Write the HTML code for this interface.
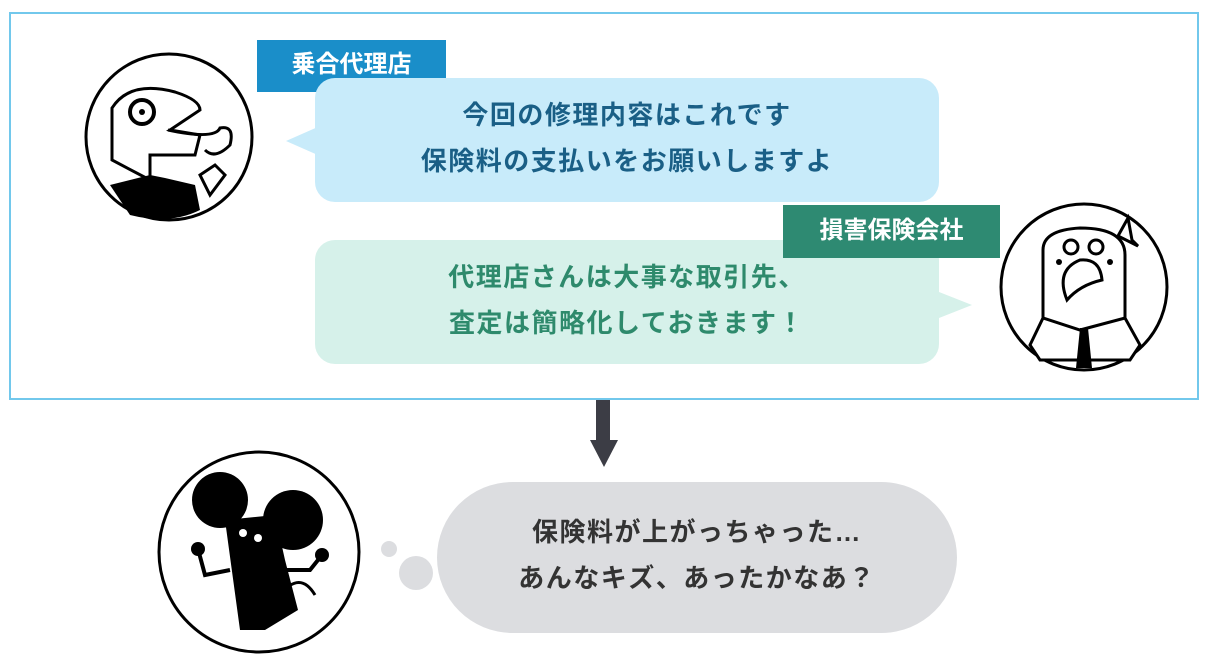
<!DOCTYPE html>
<html><head><meta charset="utf-8"><style>
body{margin:0;width:1208px;height:655px;background:#fff;position:relative;overflow:hidden;font-family:"Liberation Sans","Noto Sans CJK JP",sans-serif;}
.a{position:absolute;}
.t{font-weight:bold;font-size:26px;letter-spacing:1.5px;text-align:center;line-height:46px;}
</style></head><body>
<div class="a" style="left:9px;top:12px;width:1186px;height:384px;border:2px solid #72c8ec;"></div>
<svg class="a" style="left:0;top:0" width="1208" height="655">
<polygon points="286,141 320,126 320,156" fill="#c8ebfa"/>
<polygon points="972,305 934,290 934,320" fill="#d6f1ea"/>
<rect x="596" y="400" width="14" height="42" fill="#3c3d45"/>
<polygon points="590,440 618,440 604,467" fill="#3c3d45"/>
<circle cx="389" cy="549" r="8" fill="#dcdde0"/>
<circle cx="416" cy="573" r="17" fill="#dcdde0"/>
<!-- chameleon -->
<circle cx="169" cy="137" r="83" fill="#fff" stroke="#000" stroke-width="3"/>
<path d="M112,160 L112,108 Q130,80 175,92 Q200,100 200,110 L170,130 L200,135 L195,155 L150,155 L150,180 Z" fill="#fff" stroke="#000" stroke-width="3"/>
<circle cx="142" cy="112" r="12" fill="#fff" stroke="#000" stroke-width="4"/><circle cx="142" cy="112" r="3"/>
<path d="M168,130 Q215,140 220,128 Q235,125 230,145 Q215,160 205,150" fill="none" stroke="#000" stroke-width="3"/>
<path d="M110,185 L150,175 L165,178 L195,185 L200,210 Q170,225 130,215 Z" fill="#000"/>
<path d="M200,175 L215,165 L225,175 L210,195 Z" fill="#fff" stroke="#000" stroke-width="3"/>
<!-- bird -->
<circle cx="1084" cy="287" r="83" fill="#fff" stroke="#000" stroke-width="3"/>
<path d="M1043,320 L1043,250 Q1043,230 1080,228 Q1125,228 1125,255 L1125,320" fill="#fff" stroke="#000" stroke-width="3"/>
<path d="M1118,236 L1128,218 L1132,240 L1138,246 Z" fill="#fff" stroke="#000" stroke-width="3"/>
<circle cx="1071" cy="247" r="7" fill="#fff" stroke="#000" stroke-width="3"/><circle cx="1096" cy="247" r="7" fill="#fff" stroke="#000" stroke-width="3"/>
<circle cx="1059" cy="262" r="3"/><circle cx="1110" cy="262" r="3"/>
<path d="M1067,300 Q1055,270 1080,260 Q1100,258 1102,280 Q1080,285 1067,300 Z" fill="#fff" stroke="#000" stroke-width="3"/>
<path d="M1030,345 L1043,318 L1080,330 L1125,318 L1140,345 L1130,360 L1040,360 Z" fill="#fff" stroke="#000" stroke-width="3"/>
<polygon points="1080,328 1088,328 1092,368 1076,368" fill="#000"/>
<!-- mouse -->
<circle cx="259" cy="552" r="100" fill="#fff" stroke="#000" stroke-width="3"/>
<circle cx="220" cy="500" r="28" fill="#000"/><circle cx="293" cy="520" r="30" fill="#000"/>
<path d="M225,520 L275,515 L285,560 L298,610 L265,630 L240,630 Z" fill="#000"/>
<circle cx="198" cy="549" r="7" fill="#000"/><circle cx="322" cy="555" r="7" fill="#000"/>
<path d="M198,549 L205,575 L230,570 M322,555 L310,570 L285,570" stroke="#000" stroke-width="4" fill="none"/>
<path d="M280,595 Q300,570 315,595" stroke="#000" stroke-width="3" fill="none"/>
<circle cx="243" cy="533" r="4" fill="#fff"/><circle cx="258" cy="538" r="4" fill="#fff"/>
</svg>
<div class="a" style="left:257px;top:40px;width:189px;height:52px;background:#1a8ec9;color:#fff;font-weight:bold;font-size:24px;line-height:50px;text-align:center;">乗合代理店</div>
<div class="a t" style="left:315px;top:78px;width:624px;height:124px;border-radius:20px;background:#c8ebfa;color:#1a5f86;padding-top:14px;box-sizing:border-box;">今回の修理内容はこれです<br>保険料の支払いをお願いしますよ</div>
<div class="a t" style="left:315px;top:240px;width:624px;height:124px;border-radius:20px;background:#d6f1ea;color:#2e8a6c;padding-top:14px;box-sizing:border-box;">代理店さんは大事な取引先、<br>査定は簡略化しておきます！</div>
<div class="a" style="left:783px;top:205px;width:217px;height:53px;background:#2e8a72;color:#fff;font-weight:bold;font-size:24px;line-height:51px;text-align:center;">損害保険会社</div>
<div class="a t" style="left:437px;top:482px;width:520px;height:151px;border-radius:76px;background:#dcdde0;color:#333;padding-top:27px;box-sizing:border-box;">保険料が上がっちゃった…<br>あんなキズ、あったかなあ？</div>
</body></html>
